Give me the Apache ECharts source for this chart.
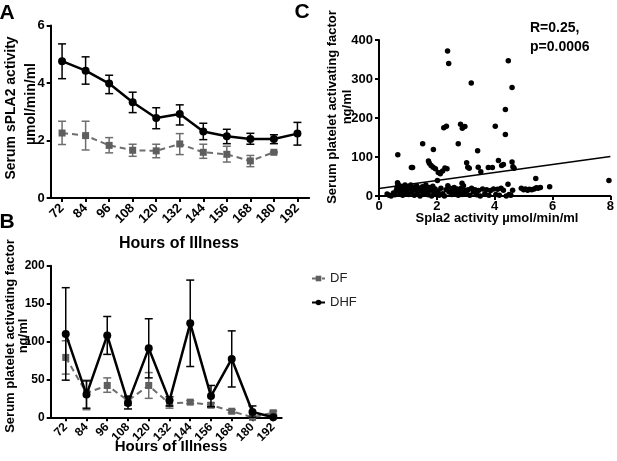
<!DOCTYPE html>
<html><head><meta charset="utf-8">
<script src="https://cdn.jsdelivr.net/npm/echarts@6/dist/echarts.min.js"></script>
<style>html,body{margin:0;padding:0;background:#fff}#c{width:617px;height:461px}</style>
</head><body><div id="c"></div>
<script>
// ---------- DATA ----------
const hours = [72, 84, 96, 108, 120, 132, 144, 156, 168, 180, 192];
const hourLabels = ['72','84','96','108','120','132','144','156','168','180','192'];

// Panel A: serum sPLA2 activity (µmol/min/ml)
const splaDHF     = [4.76, 4.43, 3.98, 3.33, 2.78, 2.92, 2.31, 2.15, 2.05, 2.05, 2.24];
const splaDHFLow  = [4.15, 3.96, 3.63, 2.97, 2.41, 2.54, 2.03, 1.89, 1.87, 1.89, 1.84];
const splaDHFHigh = [5.36, 4.91, 4.27, 3.68, 3.14, 3.24, 2.60, 2.39, 2.25, 2.20, 2.63];
const splaDF      = [2.26, 2.17, 1.83, 1.66, 1.64, 1.88, 1.59, 1.52, 1.29, 1.59, null];
const splaDFLow   = [1.86, 1.67, 1.57, 1.45, 1.40, 1.51, 1.38, 1.25, 1.09, 1.57, null];
const splaDFHigh  = [2.67, 2.67, 2.10, 1.87, 1.87, 2.24, 1.87, 1.80, 1.48, 1.61, null];

// Panel B: serum PAF (ng/ml)
const pafDHF     = [110, 30, 108, 19, 91, 22, 124, 28, 77, 7, 0];
const pafDHFLow  = [49, 12, 83, 11, 52, 15, 67, 14, 40, 0, 0];
const pafDHFHigh = [171, 48, 133, 28, 130, 27, 181, 42, 114, 15, 2];
const pafDF      = [79, 32, 42, 22, 42, 18, 20, 16, 8, 0, 6];
const pafDFLow   = [57, 10, 33, 16, 25, 12, 18, 13, 6, 0, 4];
const pafDFHigh  = [101, 49, 52, 27, 59, 23, 22, 19, 10, 2, 8];

// Panel C: sPLA2 activity vs PAF
const scatterX = [2.37,2.41,3.19,4.47,4.60,4.37,4.37,4.02,2.24,2.33,2.82,2.88,2.97,1.51,2.74,3.41,1.88,0.65,1.12,1.16,
  1.71,1.74,1.80,1.87,1.95,2.05,2.12,2.20,2.28,2.35,3.03,3.07,3.12,3.43,3.52,3.78,3.92,4.13,4.24,4.30,
  4.60,4.63,4.67,5.42,7.95,2.02,2.87,0.64,
  0.28,0.35,0.42,0.50,0.55,0.60,0.62,0.66,0.70,0.72,0.76,0.80,0.82,0.86,0.90,0.92,0.96,1.00,
  1.03,1.07,1.10,1.14,1.18,1.22,1.26,1.30,1.34,1.38,1.42,1.46,1.50,1.54,1.58,1.62,1.66,1.70,1.74,1.78,1.82,1.86,1.90,1.94,1.98,
  2.04,2.08,2.14,2.20,2.26,2.32,2.38,2.42,2.46,2.52,2.56,2.60,2.66,2.70,2.74,2.78,2.84,2.88,2.92,2.96,
  3.02,3.08,3.14,3.20,3.26,3.32,3.38,3.44,3.50,3.58,3.66,3.72,3.80,3.86,3.96,
  4.04,4.10,4.16,4.22,4.30,4.40,4.46,4.50,4.56,4.62,
  4.92,5.00,5.06,5.14,5.20,5.28,5.36,5.44,5.50,5.58,5.90];
const scatterY = [372,340,290,347,278,222,158,179,175,179,184,174,178,134,134,116,119,106,73,73,
  90,84,78,74,70,60,57,64,72,70,85,74,71,74,62,73,73,91,78,81,
  87,75,71,45,40,40,33,34,
  5,2,0,8,3,14,22,30,18,6,25,12,2,20,28,9,15,24,
  4,18,28,10,22,2,16,26,8,20,0,14,24,6,18,28,10,3,22,15,0,25,8,18,4,
  12,2,20,6,0,16,26,10,20,4,14,22,8,18,2,12,20,4,26,14,
  6,16,2,20,10,16,3,14,0,18,6,16,2,14,18,
  4,17,2,20,15,0,30,4,2,15,
  20,16,18,15,17,16,18,21,20,22,24];
const regX = [0, 8];
const regY = [19, 101];

// ---------- HELPERS ----------
const FONT = '"Liberation Sans", Arial, sans-serif';
const GRAY = '#6e6e6e';
function pairs(xs, ys) { return xs.map((x, i) => ys[i] == null ? null : [x, ys[i]]).filter(d => d); }
function bars(xs, lo, hi) { return xs.map((x, i) => lo[i] == null ? null : [x, lo[i], hi[i]]).filter(d => d); }
function errSeries(name, gi, data, color, z) {
  return {
    type: 'custom', name: name, xAxisIndex: gi, yAxisIndex: gi, data: data, z: z, silent: true,
    encode: { x: 0, y: [1, 2] },
    renderItem: function (params, api) {
      const x = api.value(0), lo = api.value(1), hi = api.value(2);
      const pt = api.coord([x, hi]), pb = api.coord([x, lo]);
      const w = 4;
      const st = { stroke: color, lineWidth: 1.5, fill: null };
      return { type: 'group', children: [
        { type: 'line', shape: { x1: pt[0], y1: pt[1], x2: pb[0], y2: pb[1] }, style: st },
        { type: 'line', shape: { x1: pt[0] - w, y1: pt[1], x2: pt[0] + w, y2: pt[1] }, style: st },
        { type: 'line', shape: { x1: pb[0] - w, y1: pb[1], x2: pb[0] + w, y2: pb[1] }, style: st }
      ]};
    }
  };
}
function lineSeries(name, gi, data, isDHF) {
  return {
    type: 'line', name: name, xAxisIndex: gi, yAxisIndex: gi, data: data,
    z: isDHF ? 6 : 4,
    symbol: isDHF ? 'circle' : 'rect', symbolSize: isDHF ? 8 : 7,
    itemStyle: { color: isDHF ? '#000' : '#5e5e5e', opacity: 1 },
    lineStyle: isDHF ? { color: '#000', width: 2.5 } : { color: GRAY, width: 2, type: [6, 4] },
    emphasis: { disabled: true }
  };
}
function xAxisHours(gi, min, max, fs) {
  return {
    gridIndex: gi, type: 'value', min: min, max: max,
    axisLine: { show: true, onZero: false, lineStyle: { color: '#000', width: 2 } },
    axisTick: { show: true, customValues: hours, length: 4, lineStyle: { color: '#000', width: 2 } },
    axisLabel: { customValues: hours, formatter: v => hourLabels[hours.indexOf(v)], rotate: 45, margin: 8,
      fontSize: fs, fontWeight: 'bold', color: '#000', fontFamily: FONT },
    splitLine: { show: false }
  };
}
function yAxisV(gi, max, interval, fs) {
  return {
    gridIndex: gi, type: 'value', min: 0, max: max, interval: interval,
    axisLine: { show: true, lineStyle: { color: '#000', width: 2 } },
    axisTick: { show: true, length: 4, lineStyle: { color: '#000', width: 2 } },
    axisLabel: { margin: 6, fontSize: fs, fontWeight: 'bold', color: '#000', fontFamily: FONT },
    splitLine: { show: false }
  };
}
function txt(text, x, y, size, opts) {
  opts = opts || {};
  return {
    type: 'text', x: x, y: y, rotation: opts.rot || 0, silent: true,
    style: { text: text, fill: '#000', font: (opts.weight || 'bold') + ' ' + size + 'px ' + FONT,
      textAlign: opts.align || 'center', align: opts.align || 'center',
      textVerticalAlign: opts.valign || 'middle', verticalAlign: opts.valign || 'middle' }
  };
}

const chart = echarts.init(document.getElementById('c'), null, { renderer: 'canvas' });
chart.setOption({
  animation: false,
  backgroundColor: '#fff',
  grid: [
    { left: 50.7, top: 25.5, width: 258.5, height: 172.5 },
    { left: 50.7, top: 265.7, width: 231, height: 151.6 },
    { left: 379, top: 40, width: 234, height: 156 }
  ],
  xAxis: [
    xAxisHours(0, 66.2, 198, 13),
    xAxisHours(1, 63.3, 196.9, 12),
    { gridIndex: 2, type: 'value', min: 0, max: 8, interval: 2,
      axisLine: { show: true, lineStyle: { color: '#000', width: 2 } },
      axisTick: { show: true, length: 4, lineStyle: { color: '#000', width: 2 } },
      axisLabel: { margin: 4, fontSize: 13, fontWeight: 'bold', color: '#000', fontFamily: FONT },
      splitLine: { show: false } }
  ],
  yAxis: [
    yAxisV(0, 6, 2, 13),
    yAxisV(1, 200, 50, 12),
    yAxisV(2, 400, 100, 13)
  ],
  legend: {
    data: ['DF', 'DHF'], orient: 'vertical', left: 306, top: 267,
    itemWidth: 13, itemHeight: 7, itemGap: 11, selectedMode: false,
    textStyle: { fontSize: 13, color: '#222', fontFamily: FONT }
  },
  series: [
    errSeries('errA_DF', 0, bars(hours, splaDFLow, splaDFHigh), GRAY, 3),
    lineSeries('DF', 0, pairs(hours, splaDF), false),
    errSeries('errA_DHF', 0, bars(hours, splaDHFLow, splaDHFHigh), '#000', 5),
    lineSeries('DHF', 0, pairs(hours, splaDHF), true),

    errSeries('errB_DF', 1, bars(hours, pafDFLow, pafDFHigh), GRAY, 3),
    lineSeries('DF', 1, pairs(hours, pafDF), false),
    errSeries('errB_DHF', 1, bars(hours, pafDHFLow, pafDHFHigh), '#000', 5),
    lineSeries('DHF', 1, pairs(hours, pafDHF), true),

    { type: 'scatter', name: 'PAF vs sPLA2', xAxisIndex: 2, yAxisIndex: 2,
      data: pairs(scatterX, scatterY), symbolSize: 5.5, itemStyle: { color: '#000', opacity: 1 }, z: 4 },
    { type: 'line', name: 'fit', xAxisIndex: 2, yAxisIndex: 2, data: pairs(regX, regY),
      symbol: 'none', lineStyle: { color: '#000', width: 1.5 }, z: 5 }
  ],
  graphic: [
    txt('A', 7, 13, 21),
    txt('B', 7, 222, 21),
    txt('C', 302, 12, 21),
    txt('Serum sPLA2 activity', 11, 108, 14, { rot: Math.PI / 2 }),
    txt('µmol/min/ml', 31, 104, 14, { rot: Math.PI / 2 }),
    txt('Hours of Illness', 179, 243.5, 16),
    txt('Serum platelet activating factor', 10, 336, 13, { rot: Math.PI / 2 }),
    txt('ng/ml', 23, 336, 13, { rot: Math.PI / 2 }),
    txt('Hours of Illness', 171, 446.5, 15),
    txt('Serum platelet activating factor', 332, 107, 13, { rot: Math.PI / 2 }),
    txt('ng/ml', 347, 107, 13, { rot: Math.PI / 2 }),
    txt('Spla2 activity µmol/min/ml', 497, 218, 13),
    txt('R=0.25,', 530, 28, 14, { align: 'left' }),
    txt('p=0.0006', 530, 47, 14, { align: 'left' })
  ]
});
</script>
</body></html>
